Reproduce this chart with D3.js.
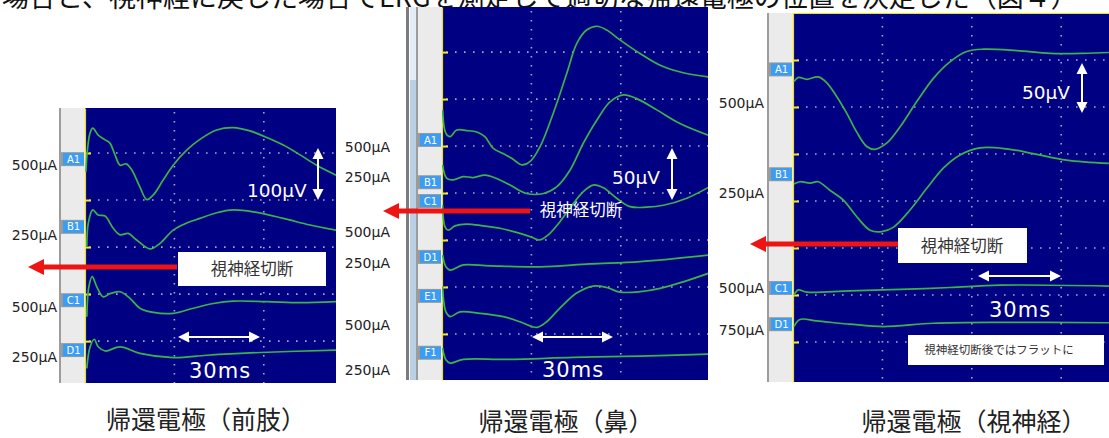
<!DOCTYPE html>
<html>
<head>
<meta charset="utf-8">
<script src="https://cdn.jsdelivr.net/npm/d3@7"></script>
<style>
body { margin: 0; background: #fff; }
svg { display: block; }
</style>
</head>
<body>
<svg id="chart" width="1109" height="438"></svg>
<script>
// text
const headline = "場合と、視神経に戻した場合でERGを測定して適切な帰還電極の位置を決定した（図４）";
const captions = ["帰還電極（前肢）", "帰還電極（鼻）", "帰還電極（視神経）"];
const cutLabel = "視神経切断";
const flatNote = "視神経切断後ではフラットに";
const ampLabels = ["100µV", "50µV", "50µV"];
const timeLabel = "30ms";

// channels and stimulus currents
const limbChannels = ["A1", "B1", "C1", "D1"];
const limbCurrents = ["500µA", "250µA", "500µA", "250µA"];
const noseChannels = ["A1", "B1", "C1", "D1", "E1", "F1"];
const noseCurrents = ["500µA", "250µA", "500µA", "250µA", "500µA", "250µA"];
const nerveChannels = ["A1", "B1", "C1", "D1"];
const nerveCurrents = ["500µA", "250µA", "500µA", "750µA"];

// traces: [time (ms), level (grid divisions from top)]
const limbA1 = [[0.3,1.40],[0.8,0.94],[1.7,0.57],[2.6,0.47],[4.4,0.62],[6.7,0.72],[8.3,0.79],[10,1.04],[11.7,1.26],[13.7,1.23],[15.6,1.36],[18.3,1.72],[20.6,1.99],[22.8,1.89],[26.1,1.57],[29.4,1.26],[33.9,0.94],[38.3,0.71],[43.9,0.51],[49.4,0.46],[55,0.53],[60.6,0.67],[66.1,0.83],[71.7,1.04],[77.2,1.26],[83.7,1.47]];
const limbB1 = [[0.6,2.99],[1.1,2.49],[2.6,2.21],[4.4,2.32],[6.7,2.34],[9.4,2.60],[11.7,2.74],[14.4,2.71],[17.2,2.85],[21.7,3.04],[25,2.92],[29.4,2.64],[33.9,2.49],[38.3,2.39],[43.9,2.27],[49.4,2.21],[56.1,2.25],[66.1,2.39],[75,2.53],[83.7,2.64]];
const limbC1 = [[0.6,4.48],[1.3,3.84],[2.4,3.63],[3.9,3.84],[6.1,4.06],[8.3,3.99],[11.7,3.95],[15,4.09],[18.3,4.30],[22.8,4.39],[29.4,4.41],[36.1,4.30],[42.8,4.20],[49.4,4.15],[60.6,4.16],[71.7,4.18],[83.7,4.16]];
const limbD1 = [[0.6,5.58],[1.7,5.12],[3.1,4.96],[4.4,5.12],[6.7,5.21],[11.7,5.12],[18.3,5.26],[29.4,5.35],[40.6,5.30],[55,5.25],[83.7,5.19]];

const noseA1 = [[0.2,2.23],[1.3,2.73],[2.7,2.80],[4.9,2.66],[8.2,2.67],[11.6,2.70],[14.3,2.80],[17.1,3.05],[20.4,3.16],[23.2,3.26],[26.6,3.40],[29.3,3.33],[32.7,3.01],[37.1,2.30],[41.6,1.45],[44.9,0.82],[48.2,0.53],[51.6,0.45],[54.9,0.53],[59.3,0.74],[66,1.03],[72.7,1.28],[80.4,1.44],[88.8,1.53]];
const noseB1 = [[0.2,3.40],[1.6,3.69],[3.8,3.72],[7.1,3.65],[10.4,3.67],[14.3,3.62],[18.2,3.69],[22.7,3.83],[28.2,4.01],[33.8,4.01],[38.2,3.87],[42.7,3.51],[47.1,2.94],[51.6,2.45],[56,2.06],[60.4,1.91],[64.9,1.99],[71.6,2.23],[79.3,2.52],[88.8,2.77]];
const noseC1 = [[0.2,4.26],[1,4.72],[2.1,4.79],[4.3,4.70],[8.2,4.66],[13.8,4.70],[19.3,4.75],[26,4.86],[29.9,4.94],[32.4,5.00],[35.4,4.89],[39.3,4.61],[43.8,4.22],[47.1,3.97],[50.4,3.83],[53.8,3.89],[58.2,4.11],[62.7,4.29],[68.2,4.30],[73.8,4.26],[81.6,4.11],[88.8,3.88]];
const noseD1 = [[0.2,5.32],[1.3,5.57],[2.7,5.64],[7.1,5.53],[16,5.55],[32.7,5.57],[49.3,5.51],[66,5.46],[88.8,5.32]];
const noseE1 = [[0.2,5.99],[1.3,6.53],[2.7,6.63],[6,6.53],[12.7,6.56],[20.4,6.63],[26,6.74],[31.6,6.86],[34.9,6.74],[39.3,6.45],[44.9,6.13],[50.4,5.98],[54.9,6.01],[59.3,6.11],[66,6.10],[72.7,6.03],[80.4,5.89],[88.8,5.71]];
const noseF1 = [[0.2,7.30],[1.3,7.55],[2.7,7.62],[7.1,7.54],[21.6,7.54],[43.8,7.50],[66,7.47],[88.8,7.43]];

const nerveA1 = [[0.3,1.46],[1.8,1.37],[4.6,1.41],[8.4,1.36],[11.2,1.48],[14.6,1.78],[17.9,2.13],[21.2,2.53],[24.6,2.84],[27.3,2.90],[31.2,2.77],[35.7,2.42],[41.2,1.89],[46.8,1.39],[52.3,1.04],[57.9,0.82],[63.4,0.77],[74.6,0.80],[85.7,0.86],[96.8,0.86],[105.3,0.84]];
const nerveB1 = [[0.3,3.64],[2.3,3.59],[5.7,3.62],[8.4,3.59],[12.3,3.77],[16.8,3.98],[21.2,4.33],[25.7,4.62],[29.6,4.65],[33.4,4.56],[39,4.19],[44.6,3.73],[50.1,3.30],[55.7,3.02],[62.3,2.87],[71.2,2.89],[80.1,2.99],[91.2,3.13],[105.3,3.20]];
const nerveC1 = [[0.3,6.00],[1.8,5.89],[4.6,5.94],[19,5.91],[35.7,5.88],[52.3,5.84],[69,5.79],[105.3,5.81]];
const nerveD1 = [[0.3,6.67],[2.3,6.52],[7.9,6.55],[19,6.62],[30.1,6.67],[46.8,6.60],[69,6.58],[105.3,6.59]];

const msPerDiv = 29.8;

// layout of the three scope screens
const panels = [
    {left: 85, right: 336, top: 108, bottom: 383, divTop: 0.043, divBottom: 5.89, strip: 60,
     channels: limbChannels, currents: limbCurrents, traces: [limbA1, limbB1, limbC1, limbD1],
     boxDiv: [1.13, 2.57, 4.13, 5.19], textDiv: [1.26, 2.74, 4.28, 5.34], labelRight: 57,
     cut: {tail: 177, tip: 28, y: 267, box: [178, 252, 148, 34], tx: 252, ty: 269},
     amp: {tx: 247, ty: 197, ax: 318, ay1: 148, ay2: 200},
     time: {x1: 178, x2: 260, y: 337, tx: 189, ty: 378},
     caption: {x: 206, y: 429}},
    {left: 442, right: 708, top: 7, bottom: 380, divTop: 0.04, divBottom: 7.98, strip: 417,
     channels: noseChannels, currents: noseCurrents, traces: [noseA1, noseB1, noseC1, noseD1, noseE1, noseF1],
     boxDiv: [2.87, 3.77, 4.17, 5.36, 6.19, 7.40], textDiv: [3.02, 3.66, 4.83, 5.49, 6.81, 7.77], labelRight: 390,
     cut: {tail: 530, tip: 383, y: 211, tx: 581, ty: 210, plain: true},
     amp: {tx: 612, ty: 184, ax: 672, ay1: 148, ay2: 200},
     time: {x1: 532, x2: 613, y: 337, tx: 542, ty: 377},
     caption: {x: 566, y: 431}},
    {left: 793, right: 1109, top: 13, bottom: 382, divTop: 0.0, divBottom: 7.85, strip: 768,
     channels: nerveChannels, currents: nerveCurrents, traces: [nerveA1, nerveB1, nerveC1, nerveD1],
     boxDiv: [1.20, 3.43, 5.85, 6.62], textDiv: [1.91, 3.83, 5.85, 6.74], labelRight: 764,
     cut: {tail: 900, tip: 750, y: 244, box: [898, 228, 129, 35], tx: 962, ty: 246},
     amp: {tx: 1022, ty: 99, ax: 1082, ay1: 63, ay2: 113},
     time: {x1: 978, x2: 1061, y: 276, tx: 989, ty: 317},
     caption: {x: 974, y: 431}}
];

const svg = d3.select("#chart");
const defs = svg.append("defs");
const cjk = "'Noto Sans CJK JP', sans-serif";
const latin = "'DejaVu Sans', sans-serif";
const green = "#3cb34a";
const red = "#ee1414";

function redArrow(g, tail, tip, y) {
    const head = 16, half = 8;
    g.append("line").attr("x1", tail).attr("x2", tip + head - 1).attr("y1", y).attr("y2", y)
        .attr("stroke", red).attr("stroke-width", 5);
    g.append("path").attr("d", `M${tip},${y}L${tip + head},${y - half}L${tip + head},${y + half}Z`).attr("fill", red);
}

function whiteArrow(g, x1, y1, x2, y2) {
    const len = 11, half = 5.5;
    const dx = x2 - x1, dy = y2 - y1, d = Math.hypot(dx, dy);
    const ux = dx / d, uy = dy / d, px = -uy, py = ux;
    g.append("line").attr("x1", x1 + ux * len).attr("y1", y1 + uy * len)
        .attr("x2", x2 - ux * len).attr("y2", y2 - uy * len)
        .attr("stroke", "#fff").attr("stroke-width", 2);
    const head = (tx, ty, sx, sy) => `M${tx},${ty}L${tx + sx * len + px * half},${ty + sy * len + py * half}L${tx + sx * len - px * half},${ty + sy * len - py * half}Z`;
    g.append("path").attr("d", head(x1, y1, ux, uy)).attr("fill", "#fff");
    g.append("path").attr("d", head(x2, y2, -ux, -uy)).attr("fill", "#fff");
}

// headline, cut off at the top of the picture as in the source
svg.append("text").attr("x", 2).attr("y", 7)
    .attr("font-family", cjk).attr("font-size", 27).attr("fill", "#111")
    .text(headline);

// scrollbar left of the middle screen
svg.append("rect").attr("x", 406).attr("y", 7).attr("width", 3).attr("height", 373).attr("fill", "#7c7c7c");
svg.append("rect").attr("x", 410).attr("y", 7).attr("width", 6).attr("height", 373).attr("fill", "#b9cfe6");
svg.append("rect").attr("x", 410).attr("y", 7).attr("width", 6).attr("height", 73).attr("fill", "#e3edf7");
svg.append("rect").attr("x", 416).attr("y", 7).attr("width", 1.5).attr("height", 373).attr("fill", "#9a9a9a");

panels.forEach((p, pi) => {
    const x = d3.scaleLinear().domain([0, (p.right - p.left) / 3]).range([p.left, p.right]);
    const y = d3.scaleLinear().domain([p.divTop, p.divBottom]).range([p.top, p.bottom]);
    const g = svg.append("g");

    // channel strip
    g.append("rect").attr("x", p.strip).attr("y", p.top).attr("width", p.left - p.strip)
        .attr("height", p.bottom - p.top).attr("fill", "#ebebeb");
    g.append("rect").attr("x", p.strip - 1).attr("y", p.top).attr("width", 2)
        .attr("height", p.bottom - p.top).attr("fill", "#9c9c9c");

    // screen
    g.append("rect").attr("x", p.left).attr("y", p.top).attr("width", p.right - p.left)
        .attr("height", p.bottom - p.top).attr("fill", "#000082");
    defs.append("clipPath").attr("id", "clip" + pi).append("rect")
        .attr("x", p.left).attr("y", p.top).attr("width", p.right - p.left).attr("height", p.bottom - p.top);

    const rows = d3.range(1, Math.floor(p.divBottom) + 1);
    const cols = d3.range(1, 5).map(k => k * msPerDiv).filter(v => v < x.domain()[1] - 1);

    const grid = g.append("g").attr("clip-path", `url(#clip${pi})`)
        .attr("stroke", "#a8a8c8").attr("stroke-width", 1.6).attr("stroke-dasharray", "1.6,7.4");
    grid.selectAll("line.h").data(rows).join("line").attr("class", "h")
        .attr("x1", p.left + 4).attr("x2", p.right).attr("y1", d => y(d)).attr("y2", d => y(d));
    grid.selectAll("line.v").data(cols).join("line").attr("class", "v")
        .attr("x1", d => x(d)).attr("x2", d => x(d)).attr("y1", p.top + 4).attr("y2", p.bottom);

    // yellow division marks on the left edge
    const axis = g.append("g").attr("transform", `translate(${p.left},0)`)
        .call(d3.axisRight(y).tickValues(rows).tickSize(6).tickSizeOuter(0).tickFormat(""));
    axis.select(".domain").attr("stroke", "#e8e020").attr("stroke-width", 1.2);
    axis.selectAll(".tick line").attr("stroke", "#f0e820").attr("stroke-width", 2);
    if (pi === 2) {
        g.append("line").attr("x1", p.left).attr("x2", p.right).attr("y1", p.top + 0.5).attr("y2", p.top + 0.5)
            .attr("stroke", "#e8e020").attr("stroke-width", 1.2);
    }

    // traces
    const line = d3.line().x(d => x(d[0])).y(d => y(d[1])).curve(d3.curveCatmullRom.alpha(0.5));
    g.append("g").attr("clip-path", `url(#clip${pi})`)
        .selectAll("path").data(p.traces).join("path")
        .attr("d", line).attr("fill", "none").attr("stroke", green).attr("stroke-width", 1.7);

    // channel tags
    const tags = g.selectAll("g.tag").data(p.channels).join("g").attr("class", "tag")
        .attr("transform", (d, i) => `translate(${p.strip},${y(p.boxDiv[i])})`);
    tags.append("rect").attr("x", 1).attr("y", -7).attr("width", p.left - p.strip - 2).attr("height", 14).attr("fill", "#9a9a9a");
    tags.append("rect").attr("x", 3).attr("y", -6).attr("width", p.left - p.strip - 4).attr("height", 12).attr("fill", "#3a9cf2");
    tags.append("text").attr("x", (p.left - p.strip) / 2 + 1).attr("y", 0).attr("dy", "0.36em")
        .attr("text-anchor", "middle").attr("font-family", latin).attr("font-size", 10)
        .attr("fill", "#fff").text(d => d);

    // stimulus currents
    g.selectAll("text.cur").data(p.currents).join("text").attr("class", "cur")
        .attr("x", p.labelRight).attr("y", (d, i) => y(p.textDiv[i])).attr("dy", "0.36em")
        .attr("text-anchor", "end").attr("font-family", latin).attr("font-size", 14)
        .attr("fill", "#222").text(d => d);

    // optic nerve cut annotation
    redArrow(g, p.cut.tail, p.cut.tip, p.cut.y);
    if (p.cut.box) {
        const b = p.cut.box;
        g.append("rect").attr("x", b[0]).attr("y", b[1]).attr("width", b[2]).attr("height", b[3]).attr("fill", "#fff");
    }
    g.append("text").attr("x", p.cut.tx).attr("y", p.cut.ty).attr("dy", "0.36em").attr("text-anchor", "middle")
        .attr("font-family", cjk).attr("font-size", 16.5).attr("fill", p.cut.plain ? "#fff" : "#333")
        .text(cutLabel);

    // amplitude scale
    g.append("text").attr("x", p.amp.tx).attr("y", p.amp.ty).attr("font-family", latin).attr("font-size", 18.5)
        .attr("fill", "#fff").text(ampLabels[pi]);
    whiteArrow(g, p.amp.ax, p.amp.ay1, p.amp.ax, p.amp.ay2);

    // time scale
    whiteArrow(g, p.time.x1, p.time.y, p.time.x2, p.time.y);
    g.append("text").attr("x", p.time.tx).attr("y", p.time.ty).attr("font-family", latin).attr("font-size", 21)
        .attr("letter-spacing", 1).attr("fill", "#fff").text(timeLabel);

    // caption under each screen
    svg.append("text").attr("x", p.caption.x).attr("y", p.caption.y).attr("text-anchor", "middle")
        .attr("font-family", cjk).attr("font-size", 25).attr("fill", "#222").text(captions[pi]);
});

// note on the right screen
svg.append("rect").attr("x", 908).attr("y", 335).attr("width", 196).attr("height", 30).attr("fill", "#fff");
svg.append("text").attr("x", 999).attr("y", 350).attr("dy", "0.36em").attr("text-anchor", "middle")
    .attr("font-family", cjk).attr("font-size", 11.5).attr("fill", "#333").text(flatNote);
</script>
</body>
</html>
